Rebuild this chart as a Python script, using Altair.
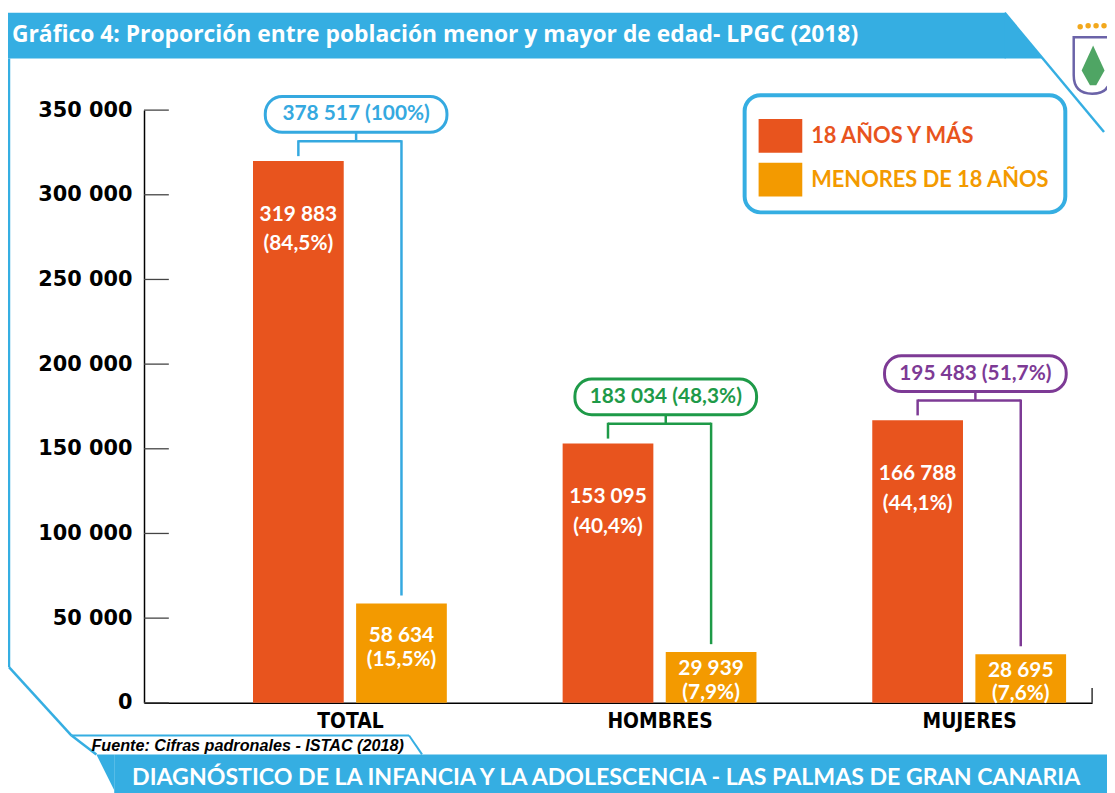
import json
import altair as alt
import pandas as pd

# ---------------- data ----------------
groups = ["TOTAL", "HOMBRES", "MUJERES"]
series = ["18 AÑOS Y MÁS", "MENORES DE 18 AÑOS"]
adults = [319883, 153095, 166788]
adults_pct = ["84,5%", "40,4%", "44,1%"]
minors = [58634, 29939, 28695]
minors_pct = ["15,5%", "7,9%", "7,6%"]
totals = [378517, 183034, 195483]
totals_pct = ["100%", "48,3%", "51,7%"]
y_ticks = [0, 50000, 100000, 150000, 200000, 250000, 300000, 350000]

title_text = "Gráfico 4: Proporción entre población menor y mayor de edad- LPGC (2018)"
source_text = "Fuente:  Cifras padronales - ISTAC (2018)"
footer_text = "DIAGNÓSTICO DE LA INFANCIA Y LA ADOLESCENCIA - LAS PALMAS DE GRAN CANARIA"

# ---------------- styles / layout ----------------
series_colors = ["#E8541E", "#F39A00"]
bracket_colors = ["#35A9E0", "#1E9A48", "#7D3A95"]
frame_blue = "#35AEE2"
FONT = "Lato"

W, H = 955, 597
PAD_L, PAD_T = 137, 100
X_DOM = [-0.665, 2.397]
PX = W / (X_DOM[1] - X_DOM[0])
BAR_IN, BAR_OUT = 0.02, 0.313
BOX_SHIFT = 0.02
BOX_HALF = 91.5 / PX


def fmt(v):
    return f"{v:,}".replace(",", " ")


rows = []
for i, g in enumerate(groups):
    rows.append(dict(group=g, series=series[0], x0=i - BAR_OUT, x1=i - BAR_IN,
                     value=adults[i], label=f"{fmt(adults[i])}\n({adults_pct[i]})"))
    rows.append(dict(group=g, series=series[1], x0=i + BAR_IN, x1=i + BAR_OUT,
                     value=minors[i], label=f"{fmt(minors[i])}\n({minors_pct[i]})"))
bars_df = pd.DataFrame(rows)

br = pd.DataFrame(dict(group=groups, idx=list(range(len(groups))), adults=adults, minors=minors,
                       label=[f"{fmt(t)} ({p})" for t, p in zip(totals, totals_pct)],
                       bcolor=bracket_colors))
br["redc"] = br["idx"] - (BAR_IN + BAR_OUT) / 2
br["orac"] = br["idx"] + (BAR_IN + BAR_OUT) / 2
br["boxc"] = br["idx"] + BOX_SHIFT
br["bx0"] = br["boxc"] - BOX_HALF
br["bx1"] = br["boxc"] + BOX_HALF

xs = alt.Scale(domain=X_DOM, nice=False, zero=False)
ys = alt.Scale(domain=[0, 350000], nice=False)

# ---------------- decorations (page pixel -> plot pixel) ----------------
one = pd.DataFrame({"k": [0]})


def ox(px):
    return px - (PAD_L + 8)


def oy(py):
    return py - (PAD_T + 8)


def seg(x1, y1, x2, y2, color=frame_blue, w=2.5):
    return alt.Chart(one).mark_rule(color=color, strokeWidth=w).encode(
        x=alt.value(ox(x1)), y=alt.value(oy(y1)), x2=alt.value(ox(x2)), y2=alt.value(oy(y2)))


def box(x1, y1, x2, y2, color):
    return alt.Chart(one).mark_rect(color=color).encode(
        x=alt.value(ox(x1)), y=alt.value(oy(y1)), x2=alt.value(ox(x2)), y2=alt.value(oy(y2)))


def sym(cx, cy, path, size, color, filled=True, sw=0):
    return alt.Chart(one).mark_point(shape=path, size=size, filled=filled, color=color,
                                     opacity=1, strokeWidth=sw).encode(
        x=alt.value(ox(cx)), y=alt.value(oy(cy)))


def txt(x, y, text, **kw):
    return alt.Chart(one).mark_text(text=text, align="left", baseline="middle", **kw).encode(
        x=alt.value(ox(x)), y=alt.value(oy(y)))


shield = "M-0.65,-1L0.65,-1L0.65,0.35Q0.65,1 0,1Q-0.65,1 -0.65,0.35Z"
palm = "M0,-1L0.55,0.2L0.15,0.9L-0.15,0.9L-0.55,0.2Z"

deco = [
    box(8, 10, 1013, 56, frame_blue),
    sym(1031, 33, "M-0.83,-1L0.83,1L-0.83,1Z", 46 * 46, frame_blue),
    seg(1012, 10, 1112, 130),
    seg(9, 56, 9, 669),
    seg(9, 669, 72, 738),
    seg(72, 738, 97, 757),
    seg(72, 738, 412, 738, w=2),
    seg(412, 738, 425, 757, w=2),
    box(115, 757, 1130, 800, frame_blue),
    sym(106, 775, "M-0.5,-1L0.5,-1L0.5,1Z", 36 * 36, frame_blue),
    sym(1101, 64, palm, 42 * 42, "#4FA564"),
    sym(1100, 63, shield, 57 * 57, "#6B63A8", filled=False, sw=2.5),
    sym(1088, 24, "circle", 30, "#F2A81D"),
    sym(1096, 23, "circle", 30, "#F2A81D"),
    sym(1104, 23, "circle", 30, "#F2A81D"),
    sym(1112, 23, "circle", 30, "#F2A81D"),
    txt(12, 32, title_text, font="Open Sans", fontSize=23, fontWeight="bold", color="white"),
    txt(92, 749, source_text, font="Liberation Sans", fontSize=16.3, fontWeight="bold",
        fontStyle="italic", color="black"),
    txt(133, 781, footer_text, font=FONT, fontSize=23.3, fontWeight="bold", color="white"),
    seg(1100, 690, 1100, 705, color="#333", w=1.5),
]

# ---------------- data layers ----------------
label_signal = (f"datum.label === '{series[0]}' ? '{series_colors[0]}' : '{series_colors[1]}'")

bars = alt.Chart(bars_df).mark_rect().encode(
    x=alt.X("x0:Q", scale=xs, title=None, axis=alt.Axis(
        values=[0, 1, 2], labelExpr=f"{json.dumps(groups)}[datum.value]", title=None,
        grid=False, ticks=False, domainColor="black", domainWidth=1.5,
        labelFont="DejaVu Sans Condensed, DejaVu Sans", labelFontSize=21, labelFontWeight="bold",
        labelColor="black", labelPadding=8)),
    x2="x1:Q",
    y=alt.Y("value:Q", scale=ys, title=None, axis=alt.Axis(
        values=y_ticks, title=None, grid=False, ticks=False, domainColor="black", domainWidth=1.5,
        labelExpr="datum.value == 0 ? '0' : format(datum.value / 1000, 'd') + ' 000'",
        labelFont="DejaVu Sans", labelFontSize=21, labelFontWeight="bold", labelColor="black",
        labelPadding=12)),
    y2=alt.datum(0),
    color=alt.Color("series:N", scale=alt.Scale(domain=series, range=series_colors),
                    legend=alt.Legend(
                        orient="none", legendX=605, legendY=-15, title=None, direction="vertical",
                        symbolType="M-1.036,-0.654L0.656,-0.654L0.656,0.654L-1.036,0.654Z",
                        symbolSize=2704, symbolStrokeWidth=0, symbolOpacity=1,
                        labelFont=FONT, labelFontSize=22, labelFontWeight="bold",
                        labelOffset=0, labelLimit=400, rowPadding=0, padding=15,
                        strokeColor=frame_blue, cornerRadius=16, fillColor="white",
                        labelColor={"expr": label_signal})),
)

ytick_rules = alt.Chart(pd.DataFrame({"v": y_ticks})).mark_rule(color="#444", strokeWidth=1.3).encode(
    y=alt.Y("v:Q", scale=ys, title=None), x=alt.value(0), x2=alt.value(25))

red_txt = alt.Chart(bars_df).transform_filter(alt.datum.series == series[0]).transform_calculate(
    xc="(datum.x0 + datum.x1) / 2").mark_text(
    color="white", font=FONT, fontSize=21, fontWeight="bold", lineBreak="\n", lineHeight=30,
    baseline="middle", dy=54).encode(
    x=alt.X("xc:Q", scale=xs, title=None), y=alt.Y("value:Q", scale=ys, title=None), text="label:N")

org_txt = alt.Chart(bars_df).transform_filter(alt.datum.series == series[1]).transform_calculate(
    xc="(datum.x0 + datum.x1) / 2", ypos="max(datum.value / 2, datum.value - 24000)").mark_text(
    color="white", font=FONT, fontSize=21, fontWeight="bold", lineBreak="\n", lineHeight=24,
    baseline="middle", dy=-8).encode(
    x=alt.X("xc:Q", scale=xs, title=None), y=alt.Y("ypos:Q", scale=ys, title=None), text="label:N")

bstroke = alt.Stroke("bcolor:N", scale=None)
bcol = alt.Color("bcolor:N", scale=None)
base = alt.Chart(br)

brk_mid = base.mark_rule(strokeWidth=2.5, yOffset=-29, y2Offset=-20).encode(
    x=alt.X("boxc:Q", scale=xs, title=None), y=alt.Y("adults:Q", scale=ys, title=None),
    y2="adults:Q", color=bcol)
brk_h = base.mark_rule(strokeWidth=2.5, yOffset=-20).encode(
    x=alt.X("redc:Q", scale=xs, title=None), x2="orac:Q",
    y=alt.Y("adults:Q", scale=ys, title=None), color=bcol)
brk_l = base.mark_rule(strokeWidth=2.5, yOffset=-21, y2Offset=-5).encode(
    x=alt.X("redc:Q", scale=xs, title=None), y=alt.Y("adults:Q", scale=ys, title=None),
    y2="adults:Q", color=bcol)
brk_r = base.mark_rule(strokeWidth=2.5, yOffset=-21, y2Offset=-8).encode(
    x=alt.X("orac:Q", scale=xs, title=None), y=alt.Y("adults:Q", scale=ys, title=None),
    y2="minors:Q", color=bcol)
brk_box = base.mark_rect(fill="white", strokeWidth=3, cornerRadius=17, yOffset=-65, y2Offset=-29).encode(
    x=alt.X("bx0:Q", scale=xs, title=None), x2="bx1:Q",
    y=alt.Y("adults:Q", scale=ys, title=None), y2="adults:Q", stroke=bstroke)
brk_txt = base.mark_text(font=FONT, fontSize=21, fontWeight="bold", baseline="middle", dy=-47).encode(
    x=alt.X("boxc:Q", scale=xs, title=None), y=alt.Y("adults:Q", scale=ys, title=None),
    text="label:N", color=bcol)

chart = alt.layer(
    *deco, bars, ytick_rules, red_txt, org_txt, brk_mid, brk_h, brk_l, brk_r, brk_box, brk_txt
).properties(
    width=W, height=H,
    autosize=alt.AutoSizeParams(type="none"),
    padding={"left": PAD_L, "top": PAD_T, "right": 1107 - PAD_L - W, "bottom": 785 - PAD_T - H},
    background="white",
).configure_view(stroke=None).configure_legend(strokeWidth=4).configure_axis(grid=False)

chart.save("out.html", embed_options={"renderer": "svg", "actions": False})
